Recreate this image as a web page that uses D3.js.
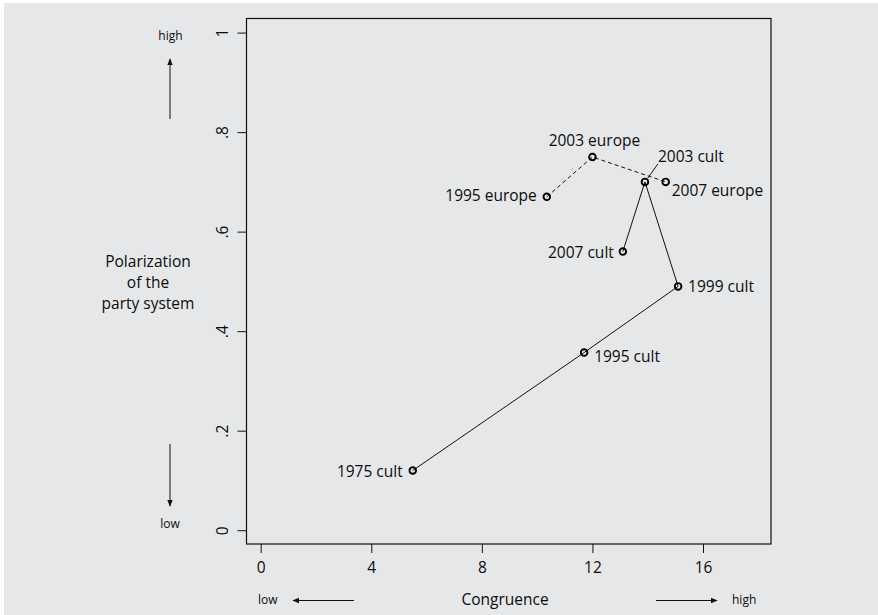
<!DOCTYPE html>
<html>
<head>
<meta charset="utf-8">
<script src="https://cdn.jsdelivr.net/npm/d3@7"></script>
<style>
  html, body { margin: 0; padding: 0; background: #ffffff; }
  svg { display: block; }
  text { font-family: "Open Sans", "Noto Sans", sans-serif; fill: #0d0d0d; }
</style>
</head>
<body>
<svg id="chart"></svg>
<script>
const width = 878;
const height = 615;

// points
const labels = ["1975 cult", "1995 cult", "1999 cult", "2003 cult", "2007 cult",
                "1995 europe", "2003 europe", "2007 europe"];
const congruence = [5.5, 11.7, 15.1, 13.9, 13.1, 10.35, 12.0, 14.65];
const polarization = [0.12, 0.357, 0.49, 0.70, 0.56, 0.67, 0.75, 0.70];

// the two paths through the points (indices into the arrays above)
const cultPath = [0, 1, 2, 3, 4];
const europePath = [5, 6, 7];

const xTicks = [0, 4, 8, 12, 16];
const yTicks = [0, 0.2, 0.4, 0.6, 0.8, 1];
const yTickLabels = ["0", ".2", ".4", ".6", ".8", "1"];

// where each label sits next to its point (px)
const placement = {
  "1975 cult":   { dx: -10, dy: 1,   anchor: "end" },
  "1995 cult":   { dx: 10,  dy: 4,   anchor: "start" },
  "1999 cult":   { dx: 10,  dy: 0,   anchor: "start" },
  "2003 cult":   { dx: 13,  dy: -25, anchor: "start", leader: true },
  "2007 cult":   { dx: -9,  dy: 1,   anchor: "end" },
  "1995 europe": { dx: -10, dy: -1,  anchor: "end" },
  "2003 europe": { dx: 2,   dy: -16, anchor: "middle" },
  "2007 europe": { dx: 6,   dy: 9,   anchor: "start" }
};

const box = { left: 246.5, top: 18.5, right: 771, bottom: 544 };
const labelSize = "15.5px";

const x = d3.scaleLinear().domain([0, 16]).range([260.7, 703]);
const y = d3.scaleLinear().domain([0, 1]).range([530.2, 32.6]);

const svg = d3.select("#chart")
  .attr("width", width)
  .attr("height", height);

svg.append("rect")
  .attr("x", 4).attr("y", 3)
  .attr("width", width - 4).attr("height", height - 3)
  .attr("fill", "#e6e7e8");

const defs = svg.append("defs");
defs.append("marker")
  .attr("id", "head")
  .attr("viewBox", "0 0 10 10")
  .attr("refX", 9).attr("refY", 5)
  .attr("markerWidth", 7).attr("markerHeight", 7)
  .attr("markerUnits", "userSpaceOnUse")
  .attr("orient", "auto")
  .append("path")
  .attr("d", "M0,1 L10,5 L0,9 Z")
  .attr("fill", "#111");

// plot frame
svg.append("rect")
  .attr("x", box.left).attr("y", box.top)
  .attr("width", box.right - box.left).attr("height", box.bottom - box.top)
  .attr("fill", "none")
  .attr("stroke", "#111")
  .attr("stroke-width", 1.2);

// x axis
const xAxis = svg.append("g")
  .attr("transform", `translate(0,${box.bottom})`)
  .call(d3.axisBottom(x).tickValues(xTicks).tickSize(9).tickSizeOuter(0).tickFormat(d3.format("d")));
xAxis.select(".domain").remove();
xAxis.selectAll("line").attr("stroke", "#111");
xAxis.selectAll("text")
  .attr("y", 29)
  .attr("dy", 0)
  .style("font-size", labelSize)
  .style("font-family", "'Open Sans', sans-serif")
  .attr("fill", "#0d0d0d");

// y axis, labels turned like base R
const yAxis = svg.append("g")
  .attr("transform", `translate(${box.left},0)`)
  .call(d3.axisLeft(y).tickValues(yTicks).tickSize(9).tickSizeOuter(0)
    .tickFormat((d, i) => yTickLabels[i]));
yAxis.select(".domain").remove();
yAxis.selectAll("line").attr("stroke", "#111");
yAxis.selectAll("text")
  .attr("x", null).attr("dy", null)
  .attr("text-anchor", "middle")
  .attr("transform", "translate(-19,0) rotate(-90)")
  .style("font-size", labelSize)
  .style("font-family", "'Open Sans', sans-serif")
  .attr("fill", "#0d0d0d");

// lines
const line = d3.line()
  .x(i => x(congruence[i]))
  .y(i => y(polarization[i]));

svg.append("path")
  .attr("d", line(cultPath))
  .attr("fill", "none")
  .attr("stroke", "#111")
  .attr("stroke-width", 1);

svg.append("path")
  .attr("d", line(europePath))
  .attr("fill", "none")
  .attr("stroke", "#111")
  .attr("stroke-width", 1)
  .attr("stroke-dasharray", "4,3");

// leader for 2003 cult
labels.forEach((lab, i) => {
  const p = placement[lab];
  if (!p.leader) return;
  svg.append("line")
    .attr("x1", x(congruence[i]) + 3).attr("y1", y(polarization[i]) - 4)
    .attr("x2", x(congruence[i]) + 13).attr("y2", y(polarization[i]) - 18)
    .attr("stroke", "#111")
    .attr("stroke-width", 1);
});

// points
svg.selectAll("circle.pt")
  .data(labels)
  .enter()
  .append("circle")
  .attr("class", "pt")
  .attr("cx", (d, i) => x(congruence[i]))
  .attr("cy", (d, i) => y(polarization[i]))
  .attr("r", 3.3)
  .attr("fill", "none")
  .attr("stroke", "#000")
  .attr("stroke-width", 1.9);

svg.selectAll("text.lab")
  .data(labels)
  .enter()
  .append("text")
  .attr("class", "lab")
  .attr("x", (d, i) => x(congruence[i]) + placement[d].dx)
  .attr("y", (d, i) => y(polarization[i]) + placement[d].dy)
  .attr("dy", "0.35em")
  .attr("text-anchor", d => placement[d].anchor)
  .style("font-size", labelSize)
  .text(d => d);

// y title
const yTitle = svg.append("text")
  .attr("text-anchor", "middle")
  .style("font-size", labelSize);
["Polarization", "of the", "party system"].forEach((t, i) => {
  yTitle.append("tspan")
    .attr("x", 148)
    .attr("y", 262 + i * 21)
    .attr("dy", "0.35em")
    .text(t);
});

// high / low arrows beside the y axis
svg.append("text").attr("x", 170.5).attr("y", 36).attr("dy", "0.35em")
  .attr("text-anchor", "middle").style("font-size", "12px").text("high");
svg.append("line")
  .attr("x1", 170).attr("y1", 119).attr("x2", 170).attr("y2", 59)
  .attr("stroke", "#111").attr("marker-end", "url(#head)");
svg.append("line")
  .attr("x1", 170).attr("y1", 444).attr("x2", 170).attr("y2", 506)
  .attr("stroke", "#111").attr("marker-end", "url(#head)");
svg.append("text").attr("x", 170).attr("y", 524).attr("dy", "0.35em")
  .attr("text-anchor", "middle").style("font-size", "12px").text("low");

// x title and arrows
svg.append("text").attr("x", 505).attr("y", 600).attr("dy", "0.35em")
  .attr("text-anchor", "middle").style("font-size", labelSize).text("Congruence");
svg.append("text").attr("x", 258).attr("y", 600).attr("dy", "0.35em")
  .attr("text-anchor", "start").style("font-size", "12px").text("low");
svg.append("line")
  .attr("x1", 354).attr("y1", 600.5).attr("x2", 293).attr("y2", 600.5)
  .attr("stroke", "#111").attr("marker-end", "url(#head)");
svg.append("line")
  .attr("x1", 656).attr("y1", 600.5).attr("x2", 717).attr("y2", 600.5)
  .attr("stroke", "#111").attr("marker-end", "url(#head)");
svg.append("text").attr("x", 732).attr("y", 600).attr("dy", "0.35em")
  .attr("text-anchor", "start").style("font-size", "12px").text("high");
</script>
</body>
</html>
